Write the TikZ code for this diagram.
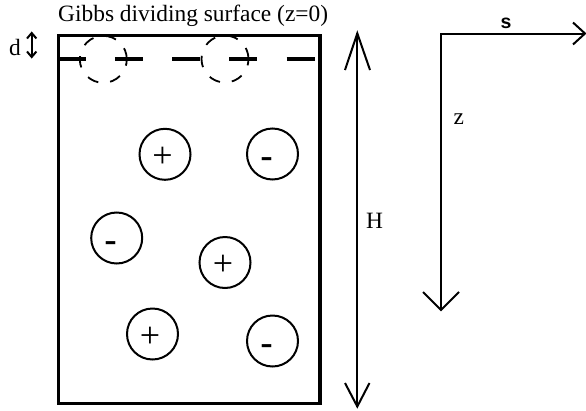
\documentclass[tikz,border=0pt]{standalone}
\usepackage{fontspec}
\setmainfont{Liberation Serif}
\newfontfamily\sansf{Liberation Sans}
\usetikzlibrary{calc}
\tikzset{
  ion/.style={circle,draw,line width=2pt,minimum size=51pt,inner sep=0pt},
  chg/.style={anchor=base,inner sep=0pt,font=\sansf\fontsize{39}{44}\selectfont},
  plussign/.style={anchor=base,inner sep=0pt,font=\fontsize{36}{42}\selectfont},
  lbl/.style={inner sep=0pt,font=\fontsize{23.4}{28}\selectfont},
  thinline/.style={line width=2pt},
  ghost/.style={line width=1.8pt,dash pattern=on 11.5pt off 12pt},
  surf/.style={line width=3.8pt,dash pattern=on 28pt off 29.3pt}
}
\begin{document}
\begin{tikzpicture}[x=1pt,y=-1pt]
\useasboundingbox (0,0) rectangle (586,410);
% box
\coordinate (tl) at (58.5,35.5);
\coordinate (br) at (320,403.5);
\draw[line width=3.5pt] (tl) rectangle (br);
% dividing surface
\coordinate (sl) at (57.5,59);
\coordinate (sr) at (318.5,59);
\draw[surf] (sl) -- (sr);
% surface ions (dashed)
\node[circle,minimum size=47pt,inner sep=0pt,draw,ghost] (g1) at (103.3,59.3) {};
\node[circle,minimum size=47pt,inner sep=0pt,draw,ghost] (g2) at (225,59) {};
% ions
\node[ion] (c1) at (165,154.3) {};
\node[ion] (c2) at (272.5,154) {};
\node[ion] (c3) at (116.7,238) {};
\node[ion] (c4) at (225,262.5) {};
\node[ion] (c5) at (152.5,334) {};
\node[ion] (c6) at (272.5,341) {};
\node[plussign] (t1) at ($(c1)+(-2.5,13)$) {+};
\node[chg] (t2) at ($(c2)+(-6,15)$) {-};
\node[chg] (t3) at ($(c3)+(-6,15)$) {-};
\node[plussign] (t4) at ($(c4)+(-2,12.5)$) {+};
\node[plussign] (t5) at ($(c5)+(-2.5,13)$) {+};
\node[chg] (t6) at ($(c6)+(-6,15)$) {-};
% title
\node[lbl,anchor=base west] (title) at (58,21) {Gibbs dividing surface (z=0)};
% d
\node[lbl,anchor=base west] (dl) at (9,55) {d};
\coordinate (dt) at (31.7,33);
\coordinate (db) at (31.7,57);
\draw[thinline] (dt) -- (db);
\draw[thinline] (27,38.5) -- (dt) -- (36.4,38.5);
\draw[thinline] (27,51.5) -- (db) -- (36.4,51.5);
% H arrow
\coordinate (ht) at (357.3,33.3);
\coordinate (hb) at (357.3,406.5);
\draw[thinline] (ht) -- (hb);
\draw[thinline] (345,70) -- (ht) -- (370,70);
\draw[thinline] (345,383) -- (hb) -- (369.5,383);
\node[lbl,anchor=base] (H) at (374.5,228.3) {H};
% axes
\coordinate (o) at (441,33.5);
\coordinate (sx) at (585,33.5);
\coordinate (zy) at (441,310);
\draw[thinline] (sx) -- (o) -- (zy);
\draw[thinline] (573,22.5) -- (sx) -- (573,44.5);
\draw[thinline] (423,292) -- (zy) -- (459,292);
\node[anchor=base,inner sep=0pt,font=\sansf\bfseries\fontsize{19.5}{22}\selectfont] (s) at (506,28.3) {s};
\node[lbl,anchor=base] (z) at (458.7,124.3) {z};
\end{tikzpicture}
\end{document}
